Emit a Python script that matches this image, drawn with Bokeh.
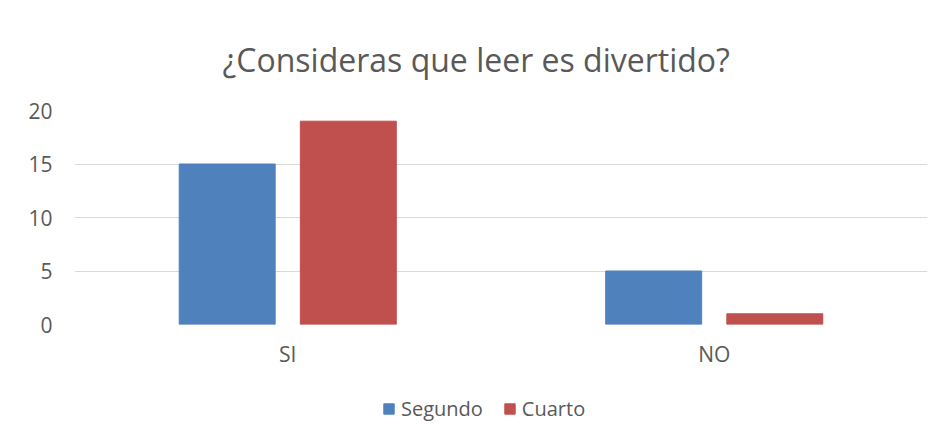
from bokeh.plotting import figure
from bokeh.layouts import column
from bokeh.models import ColumnDataSource, FactorRange, Range1d, Legend, LegendItem
from bokeh.transform import dodge
from bokeh.embed import file_html
from bokeh.resources import INLINE

categories = ["SI", "NO"]
segundo = [15, 5]
cuarto = [19, 1]
series_names = ["Segundo", "Cuarto"]
colors = ["#4F81BD", "#C0504D"]

source = ColumnDataSource(dict(cat=categories, segundo=segundo, cuarto=cuarto))

FONT = "Open Sans"
TXT = "#595959"

p = figure(width=929, height=370, output_backend="svg", toolbar_location=None,
           x_range=FactorRange(*categories, range_padding=0), y_range=Range1d(0, 20),
           min_border_left=74, min_border_right=2, min_border_top=110, min_border_bottom=46,
           title="¿Consideras que leer es divertido?")
p.outline_line_color = None
p.background_fill_color = "white"

p.title.align = "left"
p.title.text_font = FONT
p.title.text_font_size = "32px"
p.title.text_font_style = "normal"
p.title.text_color = TXT
p.title.standoff = 60
p.title.offset = 148

p.vbar(x=dodge("cat", -0.142, range=p.x_range), top="segundo", width=0.225,
       source=source, color=colors[0])
p.vbar(x=dodge("cat", 0.142, range=p.x_range), top="cuarto", width=0.225,
       source=source, color=colors[1])

p.xgrid.grid_line_color = None
p.ygrid.grid_line_color = "#d9d9d9"
p.ygrid.grid_line_width = 1
p.yaxis.ticker = [0, 5, 10, 15, 20]

for ax in (p.xaxis[0], p.yaxis[0]):
    ax.axis_line_color = None
    ax.major_tick_line_color = None
    ax.minor_tick_line_color = None
    ax.major_tick_out = 0
    ax.major_tick_in = 0
    ax.major_label_text_font = FONT
    ax.major_label_text_font_size = "21px"
    ax.major_label_text_color = TXT
p.yaxis.major_label_standoff = 22
p.xaxis.major_label_standoff = 15

# legend strip: same series, drawn outside the visible y-range so only the legend shows
pl = figure(width=929, height=55, output_backend="svg", toolbar_location=None,
            x_range=p.x_range, y_range=Range1d(100, 101),
            min_border=0, min_border_left=0, min_border_right=0,
            min_border_top=0, min_border_bottom=0)
pl.outline_line_color = None
pl.axis.visible = False
pl.grid.visible = False
l1 = pl.vbar(x=dodge("cat", -0.142, range=pl.x_range), top="segundo", width=0.225,
             source=source, color=colors[0])
l2 = pl.vbar(x=dodge("cat", 0.142, range=pl.x_range), top="cuarto", width=0.225,
             source=source, color=colors[1])

legend = Legend(items=[LegendItem(label=series_names[0], renderers=[l1]),
                       LegendItem(label=series_names[1], renderers=[l2])],
                orientation="horizontal", location=(308, 3),
                label_text_font=FONT, label_text_font_size="20px", label_text_color=TXT,
                glyph_width=13, glyph_height=13, label_standoff=6, spacing=20,
                border_line_color=None, background_fill_alpha=0, margin=0, padding=0)
pl.add_layout(legend, "center")

layout = column(p, pl, spacing=0)
open("out.html", "w").write(file_html(layout, INLINE))
